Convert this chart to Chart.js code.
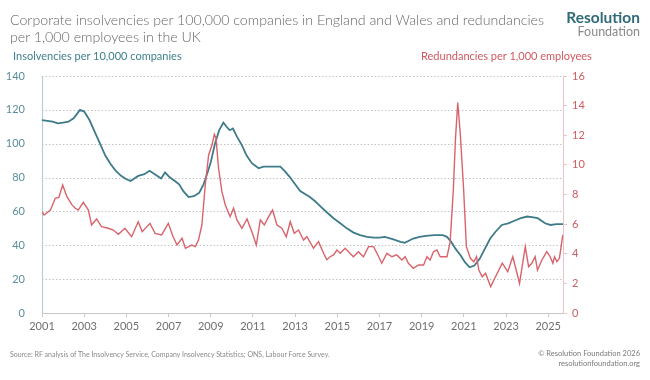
<!DOCTYPE html>
<html>
<head>
<meta charset="utf-8">
<script src="https://cdn.jsdelivr.net/npm/chart.js@4/dist/chart.umd.min.js"></script>
<style>
  html,body{margin:0;padding:0;background:#fff;}
  #wrap{position:relative;width:650px;height:380px;overflow:hidden;font-family:Lato,"Open Sans",sans-serif;}
  canvas{position:absolute;left:0;top:0;}
  .t{position:absolute;white-space:nowrap;}
</style>
</head>
<body>
<div id="wrap">
  <canvas id="c" width="650" height="380"></canvas>
  <div class="t" style="left:10px;top:11px;font-size:14.2px;font-weight:300;line-height:17px;color:#666;">Corporate insolvencies per 100,000 companies in England and Wales and redundancies<br>per 1,000 employees in the UK</div>
  <div class="t" style="left:13px;top:49px;font-size:11px;color:#3f7f8c;">Insolvencies per 10,000 companies</div>
  <div class="t" style="left:421px;top:49px;font-size:11px;color:#d0595f;">Redundancies per 1,000 employees</div>
  <div class="t" style="right:10px;top:9px;font-size:15.5px;font-weight:700;color:#2f6b78;text-align:right;line-height:16px;">Resolution</div>
  <div class="t" style="right:10px;top:25px;font-size:12.5px;color:#8a8a8a;text-align:right;line-height:13px;">Foundation</div>
  <div class="t" style="left:10px;top:350px;font-size:7px;color:#8a8a8a;">Source: RF analysis of The Insolvency Service, Company Insolvency Statistics; ONS, Labour Force Survey.</div>
  <div class="t" style="right:10px;top:349px;font-size:7.5px;color:#7a7a7a;text-align:right;line-height:10px;">© Resolution Foundation 2026<br>resolutionfoundation.org</div>
</div>
<script>
// Insolvencies per 10,000 companies (left axis)
const insolYears = [2001.0,2001.25,2001.5,2001.75,2002.0,2002.25,2002.5,2002.8,2003.0,2003.25,2003.5,2003.75,2004.0,2004.25,2004.5,2004.75,2005.0,2005.2,2005.56,2005.85,2006.1,2006.4,2006.65,2006.83,2007.07,2007.3,2007.5,2007.7,2007.95,2008.2,2008.45,2008.66,2008.85,2009.0,2009.2,2009.4,2009.6,2009.75,2009.9,2010.05,2010.25,2010.48,2010.7,2010.95,2011.27,2011.5,2011.9,2012.3,2012.5,2012.77,2013.0,2013.24,2013.7,2013.95,2014.2,2014.5,2014.82,2015.14,2015.45,2015.77,2016.08,2016.4,2016.72,2017.0,2017.25,2017.66,2018.0,2018.2,2018.6,2018.9,2019.2,2019.6,2020.0,2020.2,2020.4,2020.6,2020.85,2021.05,2021.27,2021.5,2021.75,2022.0,2022.25,2022.5,2022.8,2023.1,2023.4,2023.7,2024.0,2024.3,2024.5,2024.85,2025.1,2025.4,2025.7];
const insolValues = [114,113.5,113,112,112.5,113,115,120,119,114,107,100,93,88,84,81,79,78,81,82,84,81.5,79.5,83,80,78,76,72,68.5,69,71,76,83,89,100,108,112.5,110,108,109,104,99,93,88.5,85.5,86.5,86.5,86.5,84,80,76,72,68.5,66,63,59.5,56,53,50,47.5,46,45,44.5,44.5,45,43.5,42,41.5,44,45,45.5,46,46,45,42,38,34,30,27,28,32,38,44,48,52,53,54.5,56,57,56.5,56,53,52,52.5,52.5];

// Redundancies per 1,000 employees (right axis)
const redYears = [2001.0,2001.1,2001.4,2001.63,2001.8,2001.98,2002.18,2002.42,2002.58,2002.72,2002.96,2003.2,2003.35,2003.59,2003.82,2004.14,2004.38,2004.62,2004.93,2005.25,2005.56,2005.75,2006.12,2006.36,2006.67,2006.99,2007.2,2007.4,2007.64,2007.8,2008.1,2008.27,2008.42,2008.58,2008.74,2008.9,2009.06,2009.17,2009.25,2009.37,2009.53,2009.69,2009.92,2010.08,2010.24,2010.48,2010.72,2010.95,2011.16,2011.35,2011.54,2011.7,2011.93,2012.14,2012.37,2012.58,2012.77,2012.96,2013.16,2013.4,2013.56,2013.87,2014.11,2014.35,2014.5,2014.66,2014.82,2014.98,2015.14,2015.37,2015.6,2015.76,2016.0,2016.24,2016.48,2016.72,2016.88,2017.11,2017.35,2017.59,2017.82,2018.06,2018.22,2018.37,2018.61,2018.85,2019.09,2019.25,2019.4,2019.56,2019.72,2019.88,2020.2,2020.35,2020.5,2020.6,2020.71,2020.83,2020.99,2021.12,2021.31,2021.47,2021.6,2021.71,2021.87,2022.03,2022.27,2022.5,2022.82,2023.08,2023.32,2023.48,2023.64,2023.91,2024.07,2024.22,2024.38,2024.49,2024.7,2024.93,2025.09,2025.22,2025.3,2025.41,2025.53,2025.69];
const redValues = [6.84,6.62,6.95,7.74,7.8,8.64,7.85,7.3,7.07,6.95,7.47,6.95,5.94,6.35,5.83,5.72,5.6,5.31,5.72,5.15,6.16,5.49,6.05,5.38,5.27,6.05,5.2,4.59,5.04,4.37,4.59,4.48,4.93,5.94,8.64,10.67,11.34,12.07,11.8,9.77,8.19,7.29,6.5,7.07,6.28,5.72,6.35,5.49,4.59,6.28,5.94,6.39,6.95,5.94,5.72,5.15,6.16,5.38,5.6,4.93,5.15,4.37,4.82,4.03,3.6,3.8,3.92,4.25,4.03,4.37,4.03,3.8,4.14,3.8,4.48,4.48,4.03,3.36,4.03,3.8,3.92,3.58,3.8,3.36,3.02,3.24,3.24,3.8,3.58,4.14,4.25,3.8,3.8,4.8,8.3,11.7,14.2,12.1,8.3,4.48,3.69,3.46,3.8,2.9,2.45,2.68,1.78,2.45,3.36,2.79,3.8,2.9,2.0,4.48,3.13,3.36,3.8,2.9,3.58,4.14,3.8,3.36,3.8,3.46,3.69,5.27];

const xTickYears = [2001,2003,2005,2007,2009,2011,2013,2015,2017,2019,2021,2023,2025];
const leftTicks = [0,20,40,60,80,100,120,140];
const rightTicks = [0,2,4,6,8,10,12,14,16];

const toPts = (xs, ys) => xs.map((x, i) => ({x: x, y: ys[i]}));

// dotted horizontal grid lines at the left-axis ticks, and a solid left axis line
const dottedGrid = {
  id:'dottedGrid',
  beforeDatasetsDraw(chart){
    const a = chart.chartArea, ctx = chart.ctx, yL = chart.scales.yL;
    ctx.save();
    ctx.strokeStyle = '#c2c2c2'; ctx.lineWidth = 1;
    ctx.setLineDash([1.5, 2]);
    leftTicks.forEach(v => {
      if (v === 0) return;
      const y = Math.round(yL.getPixelForValue(v)) + 0.5;
      ctx.beginPath(); ctx.moveTo(a.left, y); ctx.lineTo(a.right, y); ctx.stroke();
    });
    ctx.setLineDash([]);
    ctx.strokeStyle = '#b5ced4'; ctx.lineWidth = 1.2;
    ctx.beginPath(); ctx.moveTo(a.left+0.5, a.top); ctx.lineTo(a.left+0.5, a.bottom); ctx.stroke();
    ctx.restore();
  }
};

new Chart(document.getElementById('c'), {
  type: 'line',
  data: {
    datasets: [
      {label:'Redundancies', data: toPts(redYears, redValues), yAxisID:'yR', borderColor:'#d9636b', borderWidth:1.4, pointRadius:0, tension:0, fill:false},
      {label:'Insolvencies', data: toPts(insolYears, insolValues), yAxisID:'yL', borderColor:'#3e7b89', borderWidth:1.8, pointRadius:0, tension:0, fill:false}
    ]
  },
  options: {
    responsive:false, animation:false, devicePixelRatio:1,
    layout:{padding:{left:0,right:0,top:76,bottom:0}},
    plugins:{legend:{display:false}, tooltip:{enabled:false}},
    scales:{
      x:{type:'linear', min:2001, max:2025.7,
        afterBuildTicks:(s)=>{s.ticks = xTickYears.map(v=>({value:v}));},
        afterFit:(s)=>{s.height = 67;},
        grid:{drawOnChartArea:false, drawTicks:true, tickLength:4, color:'#c8c8c8'},
        border:{display:true, color:'#c8c8c8'},
        ticks:{callback:(v)=>String(v), color:'#6f6f6f', font:{family:'Lato', size:11}, padding:3, maxRotation:0, autoSkip:false}
      },
      yL:{type:'linear', position:'left', min:0, max:140,
        afterBuildTicks:(s)=>{s.ticks = leftTicks.map(v=>({value:v}));},
        afterFit:(s)=>{s.width = 42;},
        grid:{display:false},
        border:{display:false},
        ticks:{color:'#5a8d99', font:{family:'Lato', size:11}, padding:9}
      },
      yR:{type:'linear', position:'right', min:0, max:16,
        afterBuildTicks:(s)=>{s.ticks = rightTicks.map(v=>({value:v}));},
        afterFit:(s)=>{s.width = 87;},
        grid:{drawOnChartArea:false, drawTicks:true, tickLength:4, color:'#ebc3c6'},
        border:{display:true, color:'#ebc3c6'},
        ticks:{color:'#cc5b62', font:{family:'Lato', size:11}, padding:5}
      }
    }
  },
  plugins:[dottedGrid]
});
</script>
</body>
</html>
